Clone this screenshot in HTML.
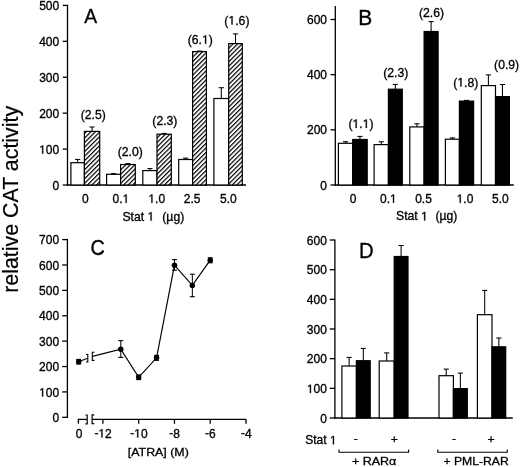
<!DOCTYPE html>
<html><head><meta charset="utf-8"><style>
html,body{margin:0;padding:0;background:#fff;}
svg{display:block;filter:blur(0.35px);}
text{font-family:"Liberation Sans", sans-serif;fill:#000;}
tspan.h1{fill-opacity:0;stroke-opacity:0;}
</style></head><body>
<svg width="520" height="467" viewBox="0 0 520 467">
<defs>
<pattern id="hatch" patternUnits="userSpaceOnUse" width="3.2" height="3.2" patternTransform="rotate(45)">
<rect width="3.2" height="3.2" fill="#fff"/>
<rect x="0" y="0" width="1.2" height="3.2" fill="#000"/>
</pattern>
</defs>
<rect width="520" height="467" fill="#fff"/>
<line x1="67.50" y1="4.80" x2="67.50" y2="185.60" stroke="#000" stroke-width="1.3"/>
<line x1="62.70" y1="185.00" x2="67.50" y2="185.00" stroke="#000" stroke-width="1.3"/>
<text transform="translate(59.20,189.60) scale(1.0,1.0)" font-size="12.0" text-anchor="end" stroke="#000" stroke-width="0.32">0</text>
<line x1="62.70" y1="149.08" x2="67.50" y2="149.08" stroke="#000" stroke-width="1.3"/>
<text id="t0" transform="translate(59.20,153.68) scale(1.0,1.0)" font-size="12.0" text-anchor="end" stroke="#000" stroke-width="0.32"><tspan class="h1">1</tspan>00</text>
<line x1="62.70" y1="113.16" x2="67.50" y2="113.16" stroke="#000" stroke-width="1.3"/>
<text transform="translate(59.20,117.76) scale(1.0,1.0)" font-size="12.0" text-anchor="end" stroke="#000" stroke-width="0.32">200</text>
<line x1="62.70" y1="77.24" x2="67.50" y2="77.24" stroke="#000" stroke-width="1.3"/>
<text transform="translate(59.20,81.84) scale(1.0,1.0)" font-size="12.0" text-anchor="end" stroke="#000" stroke-width="0.32">300</text>
<line x1="62.70" y1="41.32" x2="67.50" y2="41.32" stroke="#000" stroke-width="1.3"/>
<text transform="translate(59.20,45.92) scale(1.0,1.0)" font-size="12.0" text-anchor="end" stroke="#000" stroke-width="0.32">400</text>
<line x1="62.70" y1="5.40" x2="67.50" y2="5.40" stroke="#000" stroke-width="1.3"/>
<text transform="translate(59.20,10.00) scale(1.0,1.0)" font-size="12.0" text-anchor="end" stroke="#000" stroke-width="0.32">500</text>
<line x1="66.90" y1="185.00" x2="246.00" y2="185.00" stroke="#000" stroke-width="1.3"/>
<text transform="translate(90.60,23.00) scale(0.92,1.0)" font-size="21" text-anchor="middle" stroke="#000" stroke-width="0.3">A</text>
<rect x="70.90" y="162.70" width="13.50" height="22.30" fill="#fff" stroke="#000" stroke-width="1.2"/>
<line x1="77.65" y1="162.70" x2="77.65" y2="159.40" stroke="#000" stroke-width="1.05"/>
<line x1="75.05" y1="159.40" x2="80.25" y2="159.40" stroke="#000" stroke-width="1.05"/>
<rect x="84.40" y="131.40" width="15.30" height="53.60" fill="url(#hatch)" stroke="#000" stroke-width="1.2"/>
<line x1="92.05" y1="131.40" x2="92.05" y2="127.00" stroke="#000" stroke-width="1.05"/>
<line x1="89.45" y1="127.00" x2="94.65" y2="127.00" stroke="#000" stroke-width="1.05"/>
<text transform="translate(85.35,202.80) scale(1.0,1.0)" font-size="12.0" text-anchor="middle" stroke="#000" stroke-width="0.32">0</text>
<text transform="translate(93.20,119.30) scale(1.0,1.0)" font-size="12.2" text-anchor="middle" stroke="#000" stroke-width="0.32">(2.5)</text>
<rect x="106.60" y="174.30" width="14.00" height="10.70" fill="#fff" stroke="#000" stroke-width="1.2"/>
<line x1="113.60" y1="174.30" x2="113.60" y2="173.60" stroke="#000" stroke-width="1.05"/>
<line x1="111.00" y1="173.60" x2="116.20" y2="173.60" stroke="#000" stroke-width="1.05"/>
<rect x="120.60" y="164.50" width="14.70" height="20.50" fill="url(#hatch)" stroke="#000" stroke-width="1.2"/>
<line x1="127.95" y1="164.50" x2="127.95" y2="163.60" stroke="#000" stroke-width="1.05"/>
<line x1="125.35" y1="163.60" x2="130.55" y2="163.60" stroke="#000" stroke-width="1.05"/>
<text id="t1" transform="translate(120.90,202.80) scale(1.0,1.0)" font-size="12.0" text-anchor="middle" stroke="#000" stroke-width="0.32">0.<tspan class="h1">1</tspan></text>
<text transform="translate(130.20,156.10) scale(1.0,1.0)" font-size="12.2" text-anchor="middle" stroke="#000" stroke-width="0.32">(2.0)</text>
<rect x="142.80" y="170.60" width="14.20" height="14.40" fill="#fff" stroke="#000" stroke-width="1.2"/>
<line x1="149.90" y1="170.60" x2="149.90" y2="168.60" stroke="#000" stroke-width="1.05"/>
<line x1="147.30" y1="168.60" x2="152.50" y2="168.60" stroke="#000" stroke-width="1.05"/>
<rect x="157.00" y="134.20" width="14.30" height="50.80" fill="url(#hatch)" stroke="#000" stroke-width="1.2"/>
<line x1="164.15" y1="134.20" x2="164.15" y2="133.40" stroke="#000" stroke-width="1.05"/>
<line x1="161.55" y1="133.40" x2="166.75" y2="133.40" stroke="#000" stroke-width="1.05"/>
<text id="t2" transform="translate(156.70,202.80) scale(1.0,1.0)" font-size="12.0" text-anchor="middle" stroke="#000" stroke-width="0.32"><tspan class="h1">1</tspan>.0</text>
<text transform="translate(164.90,125.00) scale(1.0,1.0)" font-size="12.2" text-anchor="middle" stroke="#000" stroke-width="0.32">(2.3)</text>
<rect x="178.70" y="159.50" width="13.90" height="25.50" fill="#fff" stroke="#000" stroke-width="1.2"/>
<line x1="185.65" y1="159.50" x2="185.65" y2="158.10" stroke="#000" stroke-width="1.05"/>
<line x1="183.05" y1="158.10" x2="188.25" y2="158.10" stroke="#000" stroke-width="1.05"/>
<rect x="192.60" y="51.60" width="13.80" height="133.40" fill="url(#hatch)" stroke="#000" stroke-width="1.2"/>
<line x1="199.50" y1="51.60" x2="199.50" y2="51.10" stroke="#000" stroke-width="1.05"/>
<line x1="196.90" y1="51.10" x2="202.10" y2="51.10" stroke="#000" stroke-width="1.05"/>
<text transform="translate(192.20,202.80) scale(1.0,1.0)" font-size="12.0" text-anchor="middle" stroke="#000" stroke-width="0.32">2.5</text>
<text id="t3" transform="translate(200.30,43.80) scale(1.0,1.0)" font-size="12.2" text-anchor="middle" stroke="#000" stroke-width="0.32">(6.<tspan class="h1">1</tspan>)</text>
<rect x="213.90" y="98.50" width="14.80" height="86.50" fill="#fff" stroke="#000" stroke-width="1.2"/>
<line x1="221.30" y1="98.50" x2="221.30" y2="87.70" stroke="#000" stroke-width="1.05"/>
<line x1="218.70" y1="87.70" x2="223.90" y2="87.70" stroke="#000" stroke-width="1.05"/>
<rect x="228.70" y="43.60" width="13.60" height="141.40" fill="url(#hatch)" stroke="#000" stroke-width="1.2"/>
<line x1="235.50" y1="43.60" x2="235.50" y2="33.90" stroke="#000" stroke-width="1.05"/>
<line x1="232.90" y1="33.90" x2="238.10" y2="33.90" stroke="#000" stroke-width="1.05"/>
<text transform="translate(228.30,202.80) scale(1.0,1.0)" font-size="12.0" text-anchor="middle" stroke="#000" stroke-width="0.32">5.0</text>
<text id="t4" transform="translate(236.90,24.50) scale(1.0,1.0)" font-size="12.2" text-anchor="middle" stroke="#000" stroke-width="0.32">(<tspan class="h1">1</tspan>.6)</text>
<text id="t5" transform="translate(122.40,220.60) scale(1.0,1.0)" font-size="12.2" text-anchor="start" stroke="#000" stroke-width="0.32">Stat <tspan class="h1">1</tspan></text>
<text transform="translate(162.30,220.60) scale(1.0,1.0)" font-size="12.2" text-anchor="start" stroke="#000" stroke-width="0.32">(µg)</text>
<line x1="335.30" y1="6.00" x2="335.30" y2="185.60" stroke="#000" stroke-width="1.3"/>
<line x1="330.50" y1="185.00" x2="335.30" y2="185.00" stroke="#000" stroke-width="1.3"/>
<text transform="translate(327.00,189.60) scale(1.0,1.0)" font-size="12.0" text-anchor="end" stroke="#000" stroke-width="0.32">0</text>
<line x1="330.50" y1="129.83" x2="335.30" y2="129.83" stroke="#000" stroke-width="1.3"/>
<text transform="translate(327.00,134.43) scale(1.0,1.0)" font-size="12.0" text-anchor="end" stroke="#000" stroke-width="0.32">200</text>
<line x1="330.50" y1="74.67" x2="335.30" y2="74.67" stroke="#000" stroke-width="1.3"/>
<text transform="translate(327.00,79.27) scale(1.0,1.0)" font-size="12.0" text-anchor="end" stroke="#000" stroke-width="0.32">400</text>
<line x1="330.50" y1="19.50" x2="335.30" y2="19.50" stroke="#000" stroke-width="1.3"/>
<text transform="translate(327.00,24.10) scale(1.0,1.0)" font-size="12.0" text-anchor="end" stroke="#000" stroke-width="0.32">600</text>
<line x1="334.70" y1="185.00" x2="513.80" y2="185.00" stroke="#000" stroke-width="1.3"/>
<text transform="translate(365.20,24.50) scale(0.98,1.0)" font-size="21.4" text-anchor="middle" stroke="#000" stroke-width="0.35">B</text>
<rect x="338.40" y="143.30" width="14.30" height="41.70" fill="#fff" stroke="#000" stroke-width="1.2"/>
<line x1="345.55" y1="143.30" x2="345.55" y2="141.70" stroke="#000" stroke-width="1.05"/>
<line x1="342.95" y1="141.70" x2="348.15" y2="141.70" stroke="#000" stroke-width="1.05"/>
<rect x="352.70" y="139.50" width="14.50" height="45.50" fill="#000" stroke="#000" stroke-width="1.2"/>
<line x1="359.95" y1="139.50" x2="359.95" y2="136.40" stroke="#000" stroke-width="1.05"/>
<line x1="357.35" y1="136.40" x2="362.55" y2="136.40" stroke="#000" stroke-width="1.05"/>
<text transform="translate(353.10,202.80) scale(1.0,1.0)" font-size="12.0" text-anchor="middle" stroke="#000" stroke-width="0.32">0</text>
<text id="t6" transform="translate(361.00,127.90) scale(1.0,1.0)" font-size="12.2" text-anchor="middle" stroke="#000" stroke-width="0.32">(<tspan class="h1">1</tspan>.<tspan class="h1">1</tspan>)</text>
<rect x="374.10" y="144.60" width="14.30" height="40.40" fill="#fff" stroke="#000" stroke-width="1.2"/>
<line x1="381.25" y1="144.60" x2="381.25" y2="141.80" stroke="#000" stroke-width="1.05"/>
<line x1="378.65" y1="141.80" x2="383.85" y2="141.80" stroke="#000" stroke-width="1.05"/>
<rect x="388.40" y="89.20" width="13.90" height="95.80" fill="#000" stroke="#000" stroke-width="1.2"/>
<line x1="395.35" y1="89.20" x2="395.35" y2="84.40" stroke="#000" stroke-width="1.05"/>
<line x1="392.75" y1="84.40" x2="397.95" y2="84.40" stroke="#000" stroke-width="1.05"/>
<text id="t7" transform="translate(388.30,202.80) scale(1.0,1.0)" font-size="12.0" text-anchor="middle" stroke="#000" stroke-width="0.32">0.<tspan class="h1">1</tspan></text>
<text transform="translate(395.80,76.70) scale(1.0,1.0)" font-size="12.2" text-anchor="middle" stroke="#000" stroke-width="0.32">(2.3)</text>
<rect x="409.80" y="126.90" width="14.30" height="58.10" fill="#fff" stroke="#000" stroke-width="1.2"/>
<line x1="416.95" y1="126.90" x2="416.95" y2="123.80" stroke="#000" stroke-width="1.05"/>
<line x1="414.35" y1="123.80" x2="419.55" y2="123.80" stroke="#000" stroke-width="1.05"/>
<rect x="424.10" y="31.50" width="14.00" height="153.50" fill="#000" stroke="#000" stroke-width="1.2"/>
<line x1="431.10" y1="31.50" x2="431.10" y2="21.60" stroke="#000" stroke-width="1.05"/>
<line x1="428.50" y1="21.60" x2="433.70" y2="21.60" stroke="#000" stroke-width="1.05"/>
<text transform="translate(423.50,202.80) scale(1.0,1.0)" font-size="12.0" text-anchor="middle" stroke="#000" stroke-width="0.32">0.5</text>
<text transform="translate(431.50,17.00) scale(1.0,1.0)" font-size="12.2" text-anchor="middle" stroke="#000" stroke-width="0.32">(2.6)</text>
<rect x="445.40" y="139.20" width="14.00" height="45.80" fill="#fff" stroke="#000" stroke-width="1.2"/>
<line x1="452.40" y1="139.20" x2="452.40" y2="137.90" stroke="#000" stroke-width="1.05"/>
<line x1="449.80" y1="137.90" x2="455.00" y2="137.90" stroke="#000" stroke-width="1.05"/>
<rect x="459.40" y="101.10" width="14.20" height="83.90" fill="#000" stroke="#000" stroke-width="1.2"/>
<line x1="466.50" y1="101.10" x2="466.50" y2="100.40" stroke="#000" stroke-width="1.05"/>
<line x1="463.90" y1="100.40" x2="469.10" y2="100.40" stroke="#000" stroke-width="1.05"/>
<text id="t8" transform="translate(465.00,202.80) scale(1.0,1.0)" font-size="12.0" text-anchor="middle" stroke="#000" stroke-width="0.32"><tspan class="h1">1</tspan>.0</text>
<text id="t9" transform="translate(465.80,86.50) scale(1.0,1.0)" font-size="12.2" text-anchor="middle" stroke="#000" stroke-width="0.32">(<tspan class="h1">1</tspan>.8)</text>
<rect x="481.30" y="85.60" width="14.20" height="99.40" fill="#fff" stroke="#000" stroke-width="1.2"/>
<line x1="488.40" y1="85.60" x2="488.40" y2="74.90" stroke="#000" stroke-width="1.05"/>
<line x1="485.80" y1="74.90" x2="491.00" y2="74.90" stroke="#000" stroke-width="1.05"/>
<rect x="495.50" y="96.60" width="13.90" height="88.40" fill="#000" stroke="#000" stroke-width="1.2"/>
<line x1="502.45" y1="96.60" x2="502.45" y2="84.50" stroke="#000" stroke-width="1.05"/>
<line x1="499.85" y1="84.50" x2="505.05" y2="84.50" stroke="#000" stroke-width="1.05"/>
<text transform="translate(500.30,202.80) scale(1.0,1.0)" font-size="12.0" text-anchor="middle" stroke="#000" stroke-width="0.32">5.0</text>
<text transform="translate(506.60,68.80) scale(1.0,1.0)" font-size="12.2" text-anchor="middle" stroke="#000" stroke-width="0.32">(0.9)</text>
<text id="t10" transform="translate(396.00,220.40) scale(1.0,1.0)" font-size="12.2" text-anchor="start" stroke="#000" stroke-width="0.32">Stat <tspan class="h1">1</tspan></text>
<text transform="translate(435.40,220.40) scale(1.0,1.0)" font-size="12.2" text-anchor="start" stroke="#000" stroke-width="0.32">(µg)</text>
<line x1="67.40" y1="238.90" x2="67.40" y2="417.90" stroke="#000" stroke-width="1.3"/>
<line x1="62.20" y1="417.30" x2="68.00" y2="417.30" stroke="#000" stroke-width="1.3"/>
<text transform="translate(59.10,421.90) scale(1.0,1.0)" font-size="12.0" text-anchor="end" stroke="#000" stroke-width="0.32">0</text>
<line x1="62.20" y1="391.91" x2="68.00" y2="391.91" stroke="#000" stroke-width="1.3"/>
<text id="t11" transform="translate(59.10,396.51) scale(1.0,1.0)" font-size="12.0" text-anchor="end" stroke="#000" stroke-width="0.32"><tspan class="h1">1</tspan>00</text>
<line x1="62.20" y1="366.53" x2="68.00" y2="366.53" stroke="#000" stroke-width="1.3"/>
<text transform="translate(59.10,371.13) scale(1.0,1.0)" font-size="12.0" text-anchor="end" stroke="#000" stroke-width="0.32">200</text>
<line x1="62.20" y1="341.14" x2="68.00" y2="341.14" stroke="#000" stroke-width="1.3"/>
<text transform="translate(59.10,345.74) scale(1.0,1.0)" font-size="12.0" text-anchor="end" stroke="#000" stroke-width="0.32">300</text>
<line x1="62.20" y1="315.76" x2="68.00" y2="315.76" stroke="#000" stroke-width="1.3"/>
<text transform="translate(59.10,320.36) scale(1.0,1.0)" font-size="12.0" text-anchor="end" stroke="#000" stroke-width="0.32">400</text>
<line x1="62.20" y1="290.37" x2="68.00" y2="290.37" stroke="#000" stroke-width="1.3"/>
<text transform="translate(59.10,294.97) scale(1.0,1.0)" font-size="12.0" text-anchor="end" stroke="#000" stroke-width="0.32">500</text>
<line x1="62.20" y1="264.99" x2="68.00" y2="264.99" stroke="#000" stroke-width="1.3"/>
<text transform="translate(59.10,269.59) scale(1.0,1.0)" font-size="12.0" text-anchor="end" stroke="#000" stroke-width="0.32">600</text>
<line x1="62.20" y1="239.60" x2="68.00" y2="239.60" stroke="#000" stroke-width="1.3"/>
<text transform="translate(59.10,244.20) scale(1.0,1.0)" font-size="12.0" text-anchor="end" stroke="#000" stroke-width="0.32">700</text>
<text transform="translate(97.70,254.50) scale(0.93,1.0)" font-size="21.3" text-anchor="middle" stroke="#000" stroke-width="0.35">C</text>
<line x1="78.40" y1="419.40" x2="86.90" y2="419.40" stroke="#000" stroke-width="1.3"/>
<line x1="78.40" y1="418.80" x2="78.40" y2="423.70" stroke="#000" stroke-width="1.3"/>
<path d="M85.40,415.00 H87.20 V423.90 H85.40" fill="none" stroke="#000" stroke-width="1.2"/>
<path d="M94.30,414.80 H92.10 V423.70 H94.30" fill="none" stroke="#000" stroke-width="1.2"/>
<line x1="92.10" y1="419.40" x2="246.30" y2="419.40" stroke="#000" stroke-width="1.3"/>
<line x1="102.90" y1="419.40" x2="102.90" y2="423.80" stroke="#000" stroke-width="1.3"/>
<text id="t12" transform="translate(103.10,437.50) scale(1.0,1.0)" font-size="12.0" text-anchor="middle" stroke="#000" stroke-width="0.32"><tspan dy="-0.8">-</tspan><tspan dy="0.8"><tspan class="h1">1</tspan>2</tspan></text>
<line x1="138.68" y1="419.40" x2="138.68" y2="423.80" stroke="#000" stroke-width="1.3"/>
<text id="t13" transform="translate(138.88,437.50) scale(1.0,1.0)" font-size="12.0" text-anchor="middle" stroke="#000" stroke-width="0.32"><tspan dy="-0.8">-</tspan><tspan dy="0.8"><tspan class="h1">1</tspan>0</tspan></text>
<line x1="174.46" y1="419.40" x2="174.46" y2="423.80" stroke="#000" stroke-width="1.3"/>
<text transform="translate(174.66,437.50) scale(1.0,1.0)" font-size="12.0" text-anchor="middle" stroke="#000" stroke-width="0.32"><tspan dy="-0.8">-</tspan><tspan dy="0.8">8</tspan></text>
<line x1="210.24" y1="419.40" x2="210.24" y2="423.80" stroke="#000" stroke-width="1.3"/>
<text transform="translate(210.44,437.50) scale(1.0,1.0)" font-size="12.0" text-anchor="middle" stroke="#000" stroke-width="0.32"><tspan dy="-0.8">-</tspan><tspan dy="0.8">6</tspan></text>
<line x1="246.02" y1="419.40" x2="246.02" y2="423.80" stroke="#000" stroke-width="1.3"/>
<text transform="translate(246.22,437.50) scale(1.0,1.0)" font-size="12.0" text-anchor="middle" stroke="#000" stroke-width="0.32"><tspan dy="-0.8">-</tspan><tspan dy="0.8">4</tspan></text>
<text transform="translate(79.10,437.50) scale(1.0,1.0)" font-size="12.0" text-anchor="middle" stroke="#000" stroke-width="0.32">0</text>
<text transform="translate(158.30,455.60) scale(1.0,0.9)" font-size="12.4" text-anchor="middle" stroke="#000" stroke-width="0.32">[ATRA] (M)</text>
<line x1="78.70" y1="361.70" x2="87.60" y2="358.30" stroke="#000" stroke-width="1.15"/>
<path d="M86.00,354.50 H87.80 V362.00 H86.00" fill="none" stroke="#000" stroke-width="1.1"/>
<path d="M94.50,352.30 H92.30 V360.40 H94.50" fill="none" stroke="#000" stroke-width="1.1"/>
<path d="M92.4,356.4 L120.79,349.20 L138.68,377.30 L156.57,357.80 L174.46,265.20 L192.35,285.40 L210.24,260.20" fill="none" stroke="#000" stroke-width="1.2"/>
<line x1="78.70" y1="359.40" x2="78.70" y2="364.00" stroke="#000" stroke-width="1.0"/>
<line x1="76.20" y1="359.40" x2="81.20" y2="359.40" stroke="#000" stroke-width="1.1"/>
<line x1="76.20" y1="364.00" x2="81.20" y2="364.00" stroke="#000" stroke-width="1.1"/>
<circle cx="78.70" cy="361.70" r="2.75" fill="#000"/>
<line x1="120.79" y1="340.60" x2="120.79" y2="357.40" stroke="#000" stroke-width="1.0"/>
<line x1="118.29" y1="340.60" x2="123.29" y2="340.60" stroke="#000" stroke-width="1.1"/>
<line x1="118.29" y1="357.40" x2="123.29" y2="357.40" stroke="#000" stroke-width="1.1"/>
<circle cx="120.79" cy="349.20" r="2.75" fill="#000"/>
<line x1="138.68" y1="375.00" x2="138.68" y2="379.60" stroke="#000" stroke-width="1.0"/>
<line x1="136.18" y1="375.00" x2="141.18" y2="375.00" stroke="#000" stroke-width="1.1"/>
<line x1="136.18" y1="379.60" x2="141.18" y2="379.60" stroke="#000" stroke-width="1.1"/>
<circle cx="138.68" cy="377.30" r="2.75" fill="#000"/>
<line x1="156.57" y1="355.30" x2="156.57" y2="360.30" stroke="#000" stroke-width="1.0"/>
<line x1="154.07" y1="355.30" x2="159.07" y2="355.30" stroke="#000" stroke-width="1.1"/>
<line x1="154.07" y1="360.30" x2="159.07" y2="360.30" stroke="#000" stroke-width="1.1"/>
<circle cx="156.57" cy="357.80" r="2.75" fill="#000"/>
<line x1="174.46" y1="259.60" x2="174.46" y2="270.20" stroke="#000" stroke-width="1.0"/>
<line x1="171.96" y1="259.60" x2="176.96" y2="259.60" stroke="#000" stroke-width="1.1"/>
<line x1="171.96" y1="270.20" x2="176.96" y2="270.20" stroke="#000" stroke-width="1.1"/>
<circle cx="174.46" cy="265.20" r="2.75" fill="#000"/>
<line x1="192.35" y1="274.20" x2="192.35" y2="296.70" stroke="#000" stroke-width="1.0"/>
<line x1="189.85" y1="274.20" x2="194.85" y2="274.20" stroke="#000" stroke-width="1.1"/>
<line x1="189.85" y1="296.70" x2="194.85" y2="296.70" stroke="#000" stroke-width="1.1"/>
<circle cx="192.35" cy="285.40" r="2.75" fill="#000"/>
<line x1="210.24" y1="257.80" x2="210.24" y2="262.80" stroke="#000" stroke-width="1.0"/>
<line x1="207.74" y1="257.80" x2="212.74" y2="257.80" stroke="#000" stroke-width="1.1"/>
<line x1="207.74" y1="262.80" x2="212.74" y2="262.80" stroke="#000" stroke-width="1.1"/>
<circle cx="210.24" cy="260.20" r="2.75" fill="#000"/>
<line x1="334.90" y1="239.40" x2="334.90" y2="418.60" stroke="#000" stroke-width="1.3"/>
<line x1="329.70" y1="418.00" x2="334.90" y2="418.00" stroke="#000" stroke-width="1.3"/>
<text transform="translate(326.90,422.60) scale(1.0,1.0)" font-size="12.0" text-anchor="end" stroke="#000" stroke-width="0.32">0</text>
<line x1="329.70" y1="388.33" x2="334.90" y2="388.33" stroke="#000" stroke-width="1.3"/>
<text id="t14" transform="translate(326.90,392.93) scale(1.0,1.0)" font-size="12.0" text-anchor="end" stroke="#000" stroke-width="0.32"><tspan class="h1">1</tspan>00</text>
<line x1="329.70" y1="358.67" x2="334.90" y2="358.67" stroke="#000" stroke-width="1.3"/>
<text transform="translate(326.90,363.27) scale(1.0,1.0)" font-size="12.0" text-anchor="end" stroke="#000" stroke-width="0.32">200</text>
<line x1="329.70" y1="329.00" x2="334.90" y2="329.00" stroke="#000" stroke-width="1.3"/>
<text transform="translate(326.90,333.60) scale(1.0,1.0)" font-size="12.0" text-anchor="end" stroke="#000" stroke-width="0.32">300</text>
<line x1="329.70" y1="299.33" x2="334.90" y2="299.33" stroke="#000" stroke-width="1.3"/>
<text transform="translate(326.90,303.93) scale(1.0,1.0)" font-size="12.0" text-anchor="end" stroke="#000" stroke-width="0.32">400</text>
<line x1="329.70" y1="269.67" x2="334.90" y2="269.67" stroke="#000" stroke-width="1.3"/>
<text transform="translate(326.90,274.27) scale(1.0,1.0)" font-size="12.0" text-anchor="end" stroke="#000" stroke-width="0.32">500</text>
<line x1="329.70" y1="240.00" x2="334.90" y2="240.00" stroke="#000" stroke-width="1.3"/>
<text transform="translate(326.90,244.60) scale(1.0,1.0)" font-size="12.0" text-anchor="end" stroke="#000" stroke-width="0.32">600</text>
<line x1="334.30" y1="418.00" x2="512.80" y2="418.00" stroke="#000" stroke-width="1.3"/>
<text transform="translate(366.30,258.00) scale(0.9,1.0)" font-size="22.6" text-anchor="middle" stroke="#000" stroke-width="0.35">D</text>
<rect x="341.90" y="366.00" width="14.50" height="52.00" fill="#fff" stroke="#000" stroke-width="1.2"/>
<line x1="349.15" y1="366.00" x2="349.15" y2="357.40" stroke="#000" stroke-width="1.05"/>
<line x1="346.55" y1="357.40" x2="351.75" y2="357.40" stroke="#000" stroke-width="1.05"/>
<rect x="356.40" y="360.70" width="13.80" height="57.30" fill="#000" stroke="#000" stroke-width="1.2"/>
<line x1="363.30" y1="360.70" x2="363.30" y2="348.40" stroke="#000" stroke-width="1.05"/>
<line x1="360.70" y1="348.40" x2="365.90" y2="348.40" stroke="#000" stroke-width="1.05"/>
<rect x="379.20" y="361.00" width="15.00" height="57.00" fill="#fff" stroke="#000" stroke-width="1.2"/>
<line x1="386.70" y1="361.00" x2="386.70" y2="352.90" stroke="#000" stroke-width="1.05"/>
<line x1="384.10" y1="352.90" x2="389.30" y2="352.90" stroke="#000" stroke-width="1.05"/>
<rect x="394.20" y="256.50" width="13.80" height="161.50" fill="#000" stroke="#000" stroke-width="1.2"/>
<line x1="401.10" y1="256.50" x2="401.10" y2="245.50" stroke="#000" stroke-width="1.05"/>
<line x1="398.50" y1="245.50" x2="403.70" y2="245.50" stroke="#000" stroke-width="1.05"/>
<rect x="439.00" y="375.70" width="14.40" height="42.30" fill="#fff" stroke="#000" stroke-width="1.2"/>
<line x1="446.20" y1="375.70" x2="446.20" y2="369.10" stroke="#000" stroke-width="1.05"/>
<line x1="443.60" y1="369.10" x2="448.80" y2="369.10" stroke="#000" stroke-width="1.05"/>
<rect x="453.40" y="388.60" width="13.90" height="29.40" fill="#000" stroke="#000" stroke-width="1.2"/>
<line x1="460.35" y1="388.60" x2="460.35" y2="373.10" stroke="#000" stroke-width="1.05"/>
<line x1="457.75" y1="373.10" x2="462.95" y2="373.10" stroke="#000" stroke-width="1.05"/>
<rect x="477.40" y="314.70" width="14.60" height="103.30" fill="#fff" stroke="#000" stroke-width="1.2"/>
<line x1="484.70" y1="314.70" x2="484.70" y2="290.40" stroke="#000" stroke-width="1.05"/>
<line x1="482.10" y1="290.40" x2="487.30" y2="290.40" stroke="#000" stroke-width="1.05"/>
<rect x="492.00" y="346.80" width="13.70" height="71.20" fill="#000" stroke="#000" stroke-width="1.2"/>
<line x1="498.85" y1="346.80" x2="498.85" y2="338.00" stroke="#000" stroke-width="1.05"/>
<line x1="496.25" y1="338.00" x2="501.45" y2="338.00" stroke="#000" stroke-width="1.05"/>
<text id="t15" transform="translate(305.20,444.30) scale(1.0,1.0)" font-size="12.0" text-anchor="start" stroke="#000" stroke-width="0.32">Stat <tspan class="h1">1</tspan></text>
<text transform="translate(355.70,441.60) scale(1.0,0.9)" font-size="12.3" text-anchor="middle" stroke="#000" stroke-width="0.32">-</text>
<text transform="translate(394.30,443.20) scale(1.0,0.9)" font-size="12.3" text-anchor="middle" stroke="#000" stroke-width="0.32">+</text>
<text transform="translate(454.00,441.60) scale(1.0,0.9)" font-size="12.3" text-anchor="middle" stroke="#000" stroke-width="0.32">-</text>
<text transform="translate(491.10,443.20) scale(1.0,0.9)" font-size="12.3" text-anchor="middle" stroke="#000" stroke-width="0.32">+</text>
<path d="M339.0,449.4 V452.2 H408.6 V449.4" fill="none" stroke="#000" stroke-width="1.1"/>
<path d="M437.8,449.4 V452.2 H507.2 V449.4" fill="none" stroke="#000" stroke-width="1.1"/>
<text transform="translate(352.00,465.20) scale(1.0,0.9)" font-size="12.5" text-anchor="start" stroke="#000" stroke-width="0.32">+ RARα</text>
<text transform="translate(443.40,464.80) scale(1.0,0.9)" font-size="12.2" text-anchor="start" stroke="#000" stroke-width="0.32">+ PML-RAR</text>
<text transform="translate(17.9,199.3) rotate(-90)" font-size="21.4" text-anchor="middle" stroke="#000" stroke-width="0.2">relative CAT activity</text>
<path transform="translate(59.20,153.68) scale(1.0,1.0)" d="M-17.029,0.000 L-17.029,-7.248 L-18.893,-5.918 L-18.893,-6.914 L-16.941,-8.256 L-15.969,-8.256 L-15.969,0.000 Z" fill="#000" stroke="#000" stroke-width="0.32" stroke-linejoin="miter"/>
<path transform="translate(120.90,202.80) scale(1.0,1.0)" d="M4.682,0.000 L4.682,-7.248 L2.818,-5.918 L2.818,-6.914 L4.770,-8.256 L5.742,-8.256 L5.742,0.000 Z" fill="#000" stroke="#000" stroke-width="0.32" stroke-linejoin="miter"/>
<path transform="translate(156.70,202.80) scale(1.0,1.0)" d="M-5.334,0.000 L-5.334,-7.248 L-7.197,-5.918 L-7.197,-6.914 L-5.246,-8.256 L-4.273,-8.256 L-4.273,0.000 Z" fill="#000" stroke="#000" stroke-width="0.32" stroke-linejoin="miter"/>
<path transform="translate(200.30,43.80) scale(1.0,1.0)" d="M4.763,0.000 L4.763,-7.369 L2.869,-6.017 L2.869,-7.029 L4.853,-8.393 L5.841,-8.393 L5.841,0.000 Z" fill="#000" stroke="#000" stroke-width="0.32" stroke-linejoin="miter"/>
<path transform="translate(236.90,24.50) scale(1.0,1.0)" d="M-5.409,0.000 L-5.409,-7.369 L-7.303,-6.017 L-7.303,-7.029 L-5.319,-8.393 L-4.330,-8.393 L-4.330,0.000 Z" fill="#000" stroke="#000" stroke-width="0.32" stroke-linejoin="miter"/>
<path transform="translate(122.40,220.60) scale(1.0,1.0)" d="M28.146,0.000 L28.146,-7.369 L26.252,-6.017 L26.252,-7.029 L28.235,-8.393 L29.224,-8.393 L29.224,0.000 Z" fill="#000" stroke="#000" stroke-width="0.32" stroke-linejoin="miter"/>
<path transform="translate(361.00,127.90) scale(1.0,1.0)" d="M-5.409,0.000 L-5.409,-7.369 L-7.303,-6.017 L-7.303,-7.029 L-5.319,-8.393 L-4.330,-8.393 L-4.330,0.000 Z" fill="#000" stroke="#000" stroke-width="0.32" stroke-linejoin="miter"/>
<path transform="translate(361.00,127.90) scale(1.0,1.0)" d="M4.763,0.000 L4.763,-7.369 L2.869,-6.017 L2.869,-7.029 L4.853,-8.393 L5.841,-8.393 L5.841,0.000 Z" fill="#000" stroke="#000" stroke-width="0.32" stroke-linejoin="miter"/>
<path transform="translate(388.30,202.80) scale(1.0,1.0)" d="M4.682,0.000 L4.682,-7.248 L2.818,-5.918 L2.818,-6.914 L4.770,-8.256 L5.742,-8.256 L5.742,0.000 Z" fill="#000" stroke="#000" stroke-width="0.32" stroke-linejoin="miter"/>
<path transform="translate(465.00,202.80) scale(1.0,1.0)" d="M-5.334,0.000 L-5.334,-7.248 L-7.197,-5.918 L-7.197,-6.914 L-5.246,-8.256 L-4.273,-8.256 L-4.273,0.000 Z" fill="#000" stroke="#000" stroke-width="0.32" stroke-linejoin="miter"/>
<path transform="translate(465.80,86.50) scale(1.0,1.0)" d="M-5.409,0.000 L-5.409,-7.369 L-7.303,-6.017 L-7.303,-7.029 L-5.319,-8.393 L-4.330,-8.393 L-4.330,0.000 Z" fill="#000" stroke="#000" stroke-width="0.32" stroke-linejoin="miter"/>
<path transform="translate(396.00,220.40) scale(1.0,1.0)" d="M28.146,0.000 L28.146,-7.369 L26.252,-6.017 L26.252,-7.029 L28.235,-8.393 L29.224,-8.393 L29.224,0.000 Z" fill="#000" stroke="#000" stroke-width="0.32" stroke-linejoin="miter"/>
<path transform="translate(59.10,396.51) scale(1.0,1.0)" d="M-17.029,0.000 L-17.029,-7.248 L-18.893,-5.918 L-18.893,-6.914 L-16.941,-8.256 L-15.969,-8.256 L-15.969,0.000 Z" fill="#000" stroke="#000" stroke-width="0.32" stroke-linejoin="miter"/>
<path transform="translate(103.10,437.50) scale(1.0,1.0)" d="M-1.670,0.000 L-1.670,-7.248 L-3.533,-5.918 L-3.533,-6.914 L-1.582,-8.256 L-0.609,-8.256 L-0.609,0.000 Z" fill="#000" stroke="#000" stroke-width="0.32" stroke-linejoin="miter"/>
<path transform="translate(138.88,437.50) scale(1.0,1.0)" d="M-1.670,0.000 L-1.670,-7.248 L-3.533,-5.918 L-3.533,-6.914 L-1.582,-8.256 L-0.609,-8.256 L-0.609,0.000 Z" fill="#000" stroke="#000" stroke-width="0.32" stroke-linejoin="miter"/>
<path transform="translate(326.90,392.93) scale(1.0,1.0)" d="M-17.029,0.000 L-17.029,-7.248 L-18.893,-5.918 L-18.893,-6.914 L-16.941,-8.256 L-15.969,-8.256 L-15.969,0.000 Z" fill="#000" stroke="#000" stroke-width="0.32" stroke-linejoin="miter"/>
<path transform="translate(305.20,444.30) scale(1.0,1.0)" d="M27.705,0.000 L27.705,-7.248 L25.842,-5.918 L25.842,-6.914 L27.793,-8.256 L28.766,-8.256 L28.766,0.000 Z" fill="#000" stroke="#000" stroke-width="0.32" stroke-linejoin="miter"/>
</svg>
</body></html>
